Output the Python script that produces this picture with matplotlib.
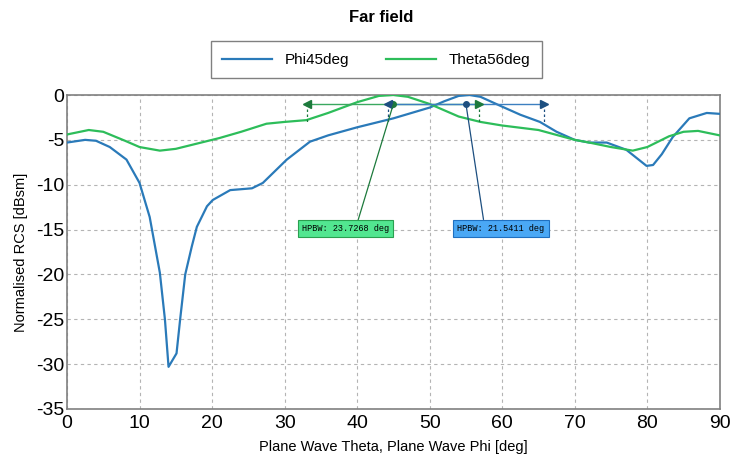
import numpy as np
import matplotlib.pyplot as plt

plt.rcParams['font.family'] = ['Liberation Sans', 'DejaVu Sans']
plt.rcParams['axes.unicode_minus'] = False

# Phi45deg (blue)
phi_x = [0, 2.5, 4, 5.9, 8.2, 10, 11.4, 12.8, 13.5, 14, 15.1, 15.6, 16.3, 17.2, 17.9, 19.3, 20.1,
         22.5, 25.5, 27, 30.3, 33.5, 36, 40, 45, 50, 52, 54, 55.5, 57, 60, 62.5, 65.2, 67.5, 70,
         72, 74.4, 77.1, 79.9, 80.8, 82, 83.5, 85.8, 88.2, 90]
phi_y = [-5.3, -5.0, -5.1, -5.8, -7.2, -9.8, -13.6, -19.8, -25, -30.3, -28.8, -25, -20, -16.9, -14.7,
         -12.4, -11.7, -10.6, -10.4, -9.8, -7.2, -5.2, -4.5, -3.6, -2.6, -1.4, -0.7, -0.1, 0.0, -0.2,
         -1.3, -2.2, -3.0, -4.1, -5.0, -5.3, -5.3, -6.1, -7.9, -7.8, -6.6, -4.7, -2.6, -2.0, -2.1]

# Theta56deg (green)
theta_x = [0, 3, 5, 8, 10, 12.8, 15, 18, 21, 24, 27.5, 30, 33, 36, 40, 43, 45, 47, 50, 54, 57,
           60, 65, 70, 72, 75, 78, 80, 83, 85, 87, 90]
theta_y = [-4.4, -3.9, -4.1, -5.1, -5.8, -6.2, -6.0, -5.4, -4.8, -4.1, -3.2, -3.0, -2.8, -2.0, -0.8,
           -0.1, 0.0, -0.2, -1.0, -2.4, -3.0, -3.4, -3.9, -5.0, -5.3, -5.8, -6.2, -5.8, -4.6, -4.1,
           -4.0, -4.5]

# HPBW markers: peak position, beam width
phi_peak, phi_hpbw = 55.0, 21.5411
theta_peak, theta_hpbw = 45.0, 23.7268

blue = '#2a7ab9'
green = '#2dbd5a'

fig = plt.figure(figsize=(7.33, 4.61), dpi=100)
ax = fig.add_axes([0.0914, 0.1128, 0.8906, 0.6811])

l1, = ax.plot(phi_x, phi_y, color=blue, lw=1.6, label='Phi45deg', zorder=3)
l2, = ax.plot(theta_x, theta_y, color=green, lw=1.6, label='Theta56deg', zorder=3)


def hpbw_marker(peak, width, line_col, head_col, box_face, box_edge, text_xy, relx):
    lo, hi = peak - width / 2, peak + width / 2
    yl = -1.0
    ax.plot([lo, hi], [yl, yl], color=line_col, lw=1.0, zorder=4)
    ax.plot([lo], [yl], marker='<', color=head_col, ms=6, zorder=5)
    ax.plot([hi], [yl], marker='>', color=head_col, ms=6, zorder=5)
    ax.plot([peak], [yl], marker='o', color=head_col, ms=4, zorder=5)
    ax.plot([lo, lo], [yl, -3.0], color=head_col, lw=0.9, ls=(0, (2, 2)), zorder=4)
    ax.plot([hi, hi], [yl, -3.0], color=head_col, lw=0.9, ls=(0, (2, 2)), zorder=4)
    ax.annotate(f'HPBW: {width:.4f} deg', xy=(peak, yl), xytext=text_xy,
                fontsize=6.2, family=['Liberation Mono', 'DejaVu Sans Mono'],
                ha='center', va='center', zorder=6,
                bbox=dict(boxstyle='square,pad=0.5', fc=box_face, ec=box_edge, lw=0.8),
                arrowprops=dict(arrowstyle='-', color=head_col, lw=0.9,
                                relpos=(relx, 1.0), shrinkA=0, shrinkB=0))


hpbw_marker(theta_peak, theta_hpbw, '#3aa860', '#1d7a3c', '#52e690', '#2aa050', (38.4, -14.9), 0.63)
hpbw_marker(phi_peak, phi_hpbw, '#3c7fc0', '#1d4f80', '#4aa8f5', '#2070c0', (59.8, -14.9), 0.31)

ax.set_xlim(0, 90)
ax.set_ylim(-35, 0)
ax.set_xticks(np.arange(0, 91, 10))
ax.set_yticks(np.arange(-35, 1, 5))
ax.tick_params(axis='both', length=0, labelsize=14)
ax.tick_params(axis='y', pad=2)
ax.tick_params(axis='x', pad=4)
ax.grid(True, color='#b4b4b4', ls=(0, (3, 3)), lw=0.8)
for s in ax.spines.values():
    s.set_color('#808080')
    s.set_linewidth(1.2)

ax.set_xlabel('Plane Wave Theta, Plane Wave Phi [deg]', fontsize=10.5, labelpad=6)
ax.set_ylabel('Normalised RCS [dBsm]', fontsize=10.5, labelpad=6)

fig.text(0.52, 0.963, 'Far field', ha='center', va='center', fontsize=12, fontweight='bold')
fig.legend(handles=[l1, l2], loc='center', bbox_to_anchor=(0.513, 0.87), ncol=2,
           fancybox=False, edgecolor='#808080', fontsize=11, handlelength=3.3,
           handletextpad=0.8, columnspacing=2.4, borderpad=0.75, borderaxespad=0,
           framealpha=1)

fig.savefig('out.png', dpi=100)
